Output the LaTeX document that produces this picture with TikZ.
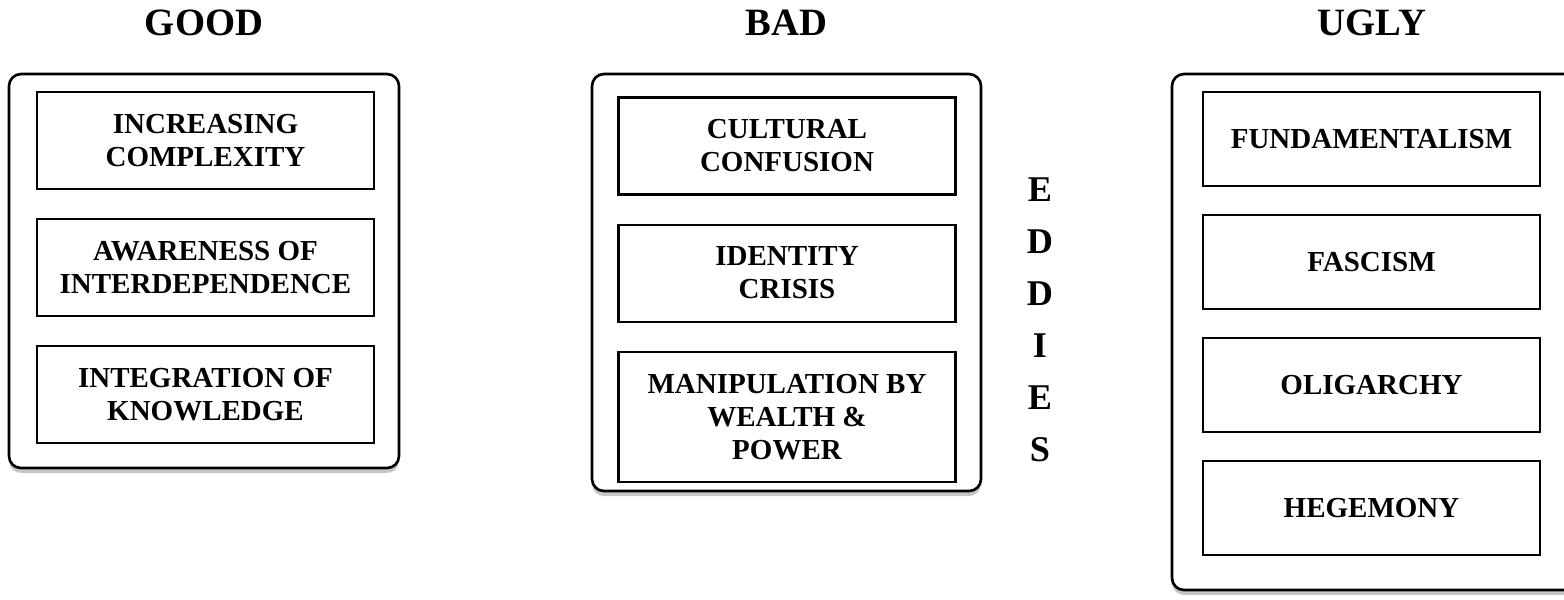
\documentclass[tikz,border=0pt]{standalone}
\usepackage{fontspec}
\setmainfont{Liberation Serif}
\usetikzlibrary{
	positioning,
	shadows
}
\tikzset{
	group box/.style={
		draw,
		line width=0.75pt,
		rounded corners=0.12cm,
		fill=white,
		drop shadow={shadow xshift=0cm, shadow yshift=-0.05cm, opacity=0.45},
		inner sep=0pt
	},
	item box/.style={
		draw,
		line width=0.6pt,
		fill=white,
		minimum width=3.37cm,
		minimum height=0.97cm,
		inner sep=0pt,
		align=center,
		font=\fontsize{8.25}{9.4}\selectfont\bfseries
	},
	group title/.style={
		font=\fontsize{11}{13}\selectfont\bfseries
	}
}

\begin{document}
\begin{tikzpicture}[node distance=0.28cm]
	\useasboundingbox (0,0) rectangle (15.64,-5.99);
	\clip (0,0) rectangle (15.64,-5.99);
	%%%% GOOD
	\node[group title] (goodtitle) at (2.04,-0.23) {GOOD};
	\node[group box, minimum width=3.90cm, minimum height=3.94cm] (good) at (2.04,-2.71) {};
	\node[item box] (complexity) at (2.055,-1.405) {INCREASING\\COMPLEXITY};
	\node[item box, below=of complexity] (interdependence) {AWARENESS OF\\INTERDEPENDENCE};
	\node[item box, below=of interdependence] (knowledge) {INTEGRATION OF\\KNOWLEDGE};
	%%%% BAD
	\node[group title] (badtitle) at (7.865,-0.23) {BAD};
	\node[group box, minimum width=3.89cm, minimum height=4.17cm] (bad) at (7.865,-2.825) {};
	\node[item box] (confusion) at (7.87,-1.46) {CULTURAL\\CONFUSION};
	\node[item box, below=of confusion] (identity) {IDENTITY\\CRISIS};
	\node[item box, below=of identity, minimum height=1.30cm] (manipulation) {MANIPULATION BY\\WEALTH \&\\POWER};
	%%%% EDDIES
	\node[align=center, font=\fontsize{10.3}{14.8}\selectfont\bfseries] (eddies) at (10.40,-3.20) {E\\D\\D\\I\\E\\S};
	%%%% UGLY
	\node[group title] (uglytitle) at (13.72,-0.23) {UGLY};
	\node[group box, minimum width=4.10cm, minimum height=5.16cm] (ugly) at (13.77,-3.32) {};
	\begin{scope}[node distance=0.27cm, item box/.append style={minimum height=0.94cm}]
		\node[item box] (fundamentalism) at (13.715,-1.39) {FUNDAMENTALISM};
		\node[item box, below=of fundamentalism] (fascism) {FASCISM};
		\node[item box, below=of fascism] (oligarchy) {OLIGARCHY};
		\node[item box, below=of oligarchy] (hegemony) {HEGEMONY};
	\end{scope}
\end{tikzpicture}
\end{document}
